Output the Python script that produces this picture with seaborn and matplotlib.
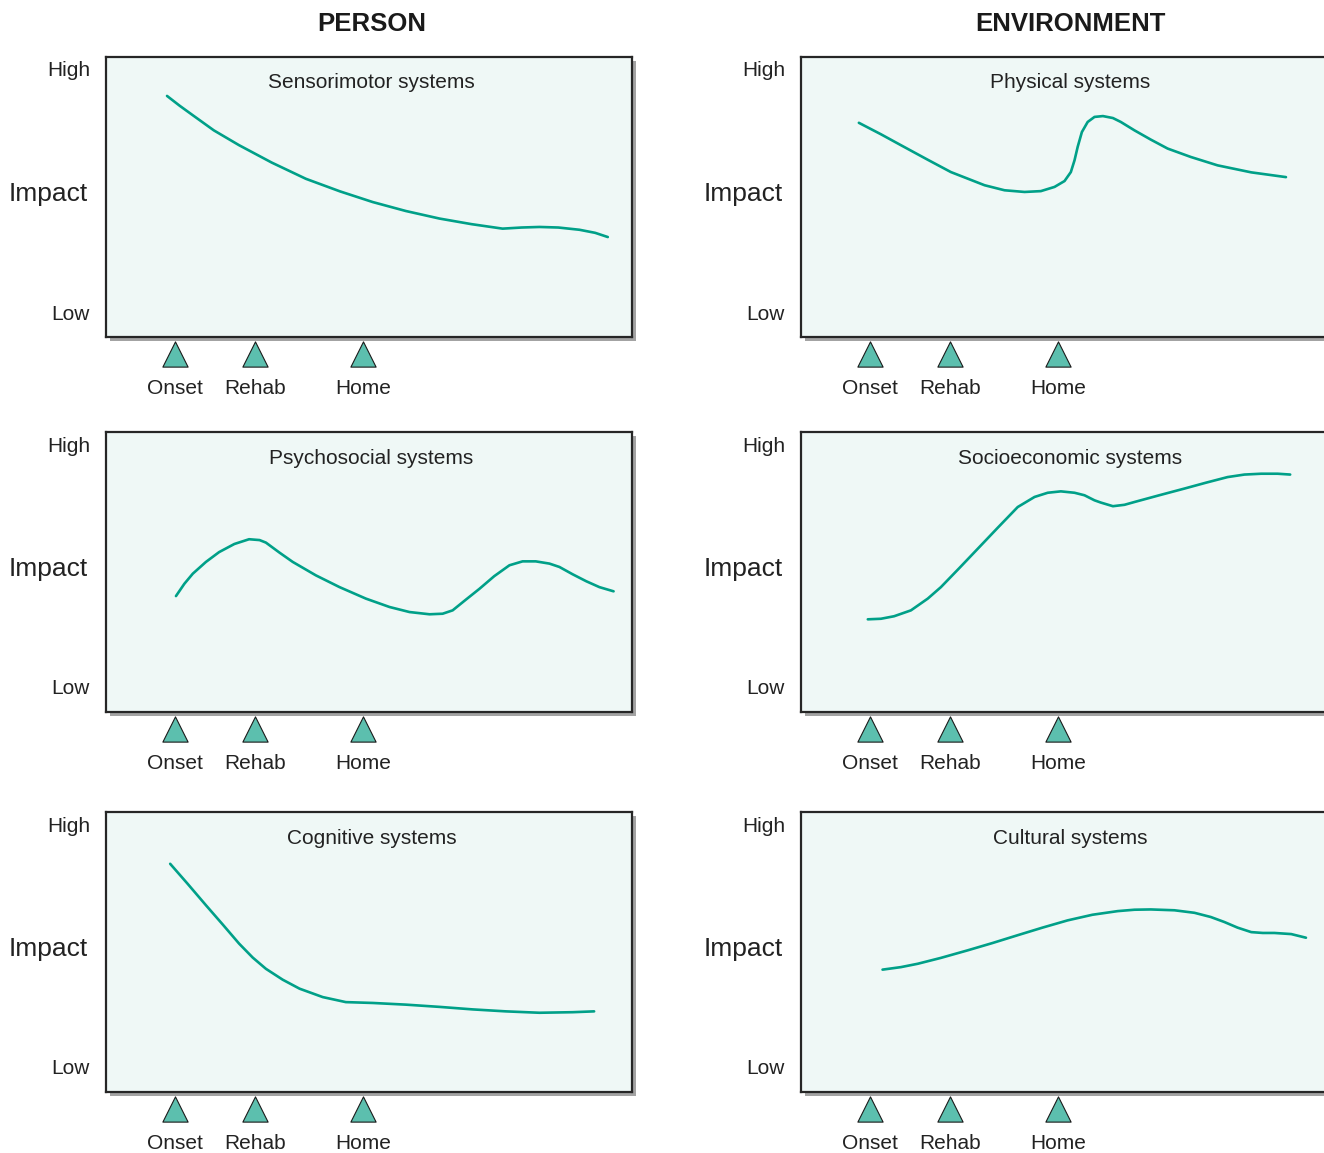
import matplotlib
matplotlib.use("Agg")
import matplotlib.pyplot as plt
from matplotlib.patches import Rectangle
import seaborn as sns
import pandas as pd

sns.set_style("white")
plt.rcParams["font.family"] = ["Liberation Sans", "DejaVu Sans"]

# ---- data -------------------------------------------------------------
column_titles = ["PERSON", "ENVIRONMENT"]
stage_labels = ["Onset", "Rehab", "Home"]
stage_x = [13.1, 28.3, 48.9]

sensorimotor_x = [11.6, 14.0, 16.5, 20.5, 25.3, 31.5, 38.0, 44.5, 50.7, 57.0, 63.4,
                  69.5, 75.4, 79.0, 82.4, 86.0, 90.0, 93.0, 95.4]
sensorimotor_y = [86.1, 82.6, 79.2, 73.8, 68.5, 62.3, 56.5, 52.0, 48.2, 45.0, 42.3,
                  40.3, 38.7, 39.1, 39.3, 39.1, 38.3, 37.2, 35.7]

physical_x = [11.0, 15.2, 19.0, 24.1, 28.5, 34.9, 38.7, 42.5, 45.6, 48.2, 50.1, 51.3,
              52.0, 52.6, 53.4, 54.5, 55.8, 57.4, 59.3, 60.8, 63.4, 66.5, 69.7, 74.1,
              79.2, 85.6, 92.2]
physical_y = [76.5, 72.4, 68.5, 63.3, 58.9, 54.2, 52.4, 51.8, 52.1, 53.6, 55.7, 58.9,
              63.1, 67.9, 73.2, 76.8, 78.6, 78.9, 78.2, 76.8, 73.8, 70.5, 67.3, 64.3,
              61.3, 58.8, 57.1]

psychosocial_x = [13.3, 14.9, 16.5, 19.0, 21.5, 24.4, 27.2, 29.2, 30.4, 33.0, 35.5,
                  39.9, 44.4, 49.4, 53.9, 57.7, 61.5, 64.0, 65.9, 68.4, 71.0, 73.8,
                  76.7, 79.2, 81.7, 84.3, 86.2, 88.7, 91.3, 93.8, 96.5]
psychosocial_y = [41.4, 45.8, 49.4, 53.6, 57.1, 60.0, 61.7, 61.4, 60.5, 56.9, 53.6,
                  48.8, 44.6, 40.5, 37.5, 35.7, 34.9, 35.1, 36.3, 40.1, 44.0, 48.5,
                  52.4, 53.8, 53.8, 53.0, 51.8, 49.2, 46.7, 44.6, 43.1]

socioeconomic_x = [12.7, 15.2, 17.7, 20.9, 24.1, 26.6, 30.1, 33.6, 37.4, 41.2, 44.4,
                   46.9, 49.4, 52.0, 53.9, 55.8, 57.0, 59.3, 61.5, 63.4, 68.1, 72.9,
                   77.0, 81.1, 84.3, 87.5, 90.6, 93.0]
socioeconomic_y = [33.1, 33.3, 34.2, 36.3, 40.5, 44.6, 51.4, 58.3, 65.8, 73.2, 76.8,
                   78.3, 78.8, 78.3, 77.4, 75.6, 74.8, 73.5, 74.0, 75.0, 77.4, 79.8,
                   81.9, 83.9, 84.8, 85.1, 85.1, 84.8]

cognitive_x = [12.2, 15.5, 19.0, 22.2, 25.3, 27.9, 30.4, 33.6, 36.8, 41.2, 45.6, 50.7,
               57.0, 63.4, 69.7, 76.0, 82.4, 88.7, 92.8]
cognitive_y = [81.5, 74.4, 66.7, 59.8, 53.0, 48.0, 44.0, 40.1, 36.9, 33.9, 32.1, 31.8,
               31.2, 30.4, 29.5, 28.8, 28.3, 28.5, 28.8]

cultural_x = [15.5, 19.0, 22.2, 26.6, 31.7, 36.4, 41.2, 45.9, 50.7, 55.4, 60.2, 63.4,
              66.5, 71.0, 74.8, 77.9, 80.5, 83.0, 85.6, 87.8, 90.0, 93.2, 96.0]
cultural_y = [43.7, 44.6, 45.8, 47.9, 50.6, 53.2, 56.0, 58.7, 61.3, 63.3, 64.6, 65.1,
              65.2, 64.9, 64.0, 62.5, 60.7, 58.7, 57.1, 56.8, 56.8, 56.4, 55.1]

panels = [
    # (row, col, title, x, y)
    (0, 0, "Sensorimotor systems", sensorimotor_x, sensorimotor_y),
    (0, 1, "Physical systems", physical_x, physical_y),
    (1, 0, "Psychosocial systems", psychosocial_x, psychosocial_y),
    (1, 1, "Socioeconomic systems", socioeconomic_x, socioeconomic_y),
    (2, 0, "Cognitive systems", cognitive_x, cognitive_y),
    (2, 1, "Cultural systems", cultural_x, cultural_y),
]

# ---- style ------------------------------------------------------------
LINE = "#00a088"
FACE = "#eff8f6"
EDGE = "#262626"
SHADOW = "#a3a3a3"
TRI = "#5cbfae"

W, H = 1324, 1153
fig = plt.figure(figsize=(W / 100, H / 100), dpi=100)

col_left = [106, 801]
row_top = [57, 432, 812]
box_w, box_h = 526, 280
title_center = [371.5, 1070]

for c, txt in enumerate(column_titles):
    fig.text(title_center[c] / W, 1 - 24 / H, txt, ha="center", va="center",
             fontsize=18.5, fontweight="bold", color="#1a1a1a")

for row, col, title, xs, ys in panels:
    left = col_left[col] / W
    bottom = 1 - (row_top[row] + box_h) / H
    w = box_w / W
    h = box_h / H

    # drop shadow behind the box
    fig.patches.append(Rectangle((left + 4 / W, bottom - 4 / H), w, h,
                                 transform=fig.transFigure, facecolor=SHADOW,
                                 edgecolor="none", zorder=-1))

    ax = fig.add_axes([left, bottom, w, h])
    ax.set_facecolor(FACE)
    for sp in ax.spines.values():
        sp.set_visible(True)
        sp.set_color(EDGE)
        sp.set_linewidth(1.6)

    df = pd.DataFrame({"x": xs, "y": ys})
    sns.lineplot(data=df, x="x", y="y", ax=ax, sort=False, color=LINE,
                 linewidth=1.9, estimator=None)

    ax.set_xlim(0, 100)
    ax.set_ylim(0, 100)
    ax.set_xticks([])
    ax.set_yticks([])
    ax.set_xlabel("")
    ax.set_ylabel("")

    tx = (title_center[col] - col_left[col]) / box_w
    ax.text(tx, 1 - 26 / box_h, title, transform=ax.transAxes, ha="center",
            va="center", fontsize=15, color="#222222")

    # vertical scale labels
    ax.text(-16 / box_w, 1 - 14 / box_h, "High", transform=ax.transAxes,
            ha="right", va="center", fontsize=15, color="#222222")
    ax.text(-16 / box_w, 23 / box_h, "Low", transform=ax.transAxes,
            ha="right", va="center", fontsize=15, color="#222222")
    ax.text(-18 / box_w, 143 / box_h, "Impact", transform=ax.transAxes,
            ha="right", va="center", fontsize=19, color="#222222")

    # stage markers beneath the box
    stages = pd.DataFrame({"x": stage_x, "y": [-6.1] * len(stage_x)})
    sns.scatterplot(data=stages, x="x", y="y", ax=ax, marker="^", s=330,
                    color=TRI, edgecolor="#1a1a1a", linewidth=0.8,
                    clip_on=False, zorder=5, legend=False)
    ax.set_xlabel("")
    ax.set_ylabel("")
    for sx, lab in zip(stage_x, stage_labels):
        ax.text(sx, -18.4, lab, ha="center", va="center", fontsize=15,
                color="#222222", clip_on=False)

fig.savefig("out.png", dpi=100)
